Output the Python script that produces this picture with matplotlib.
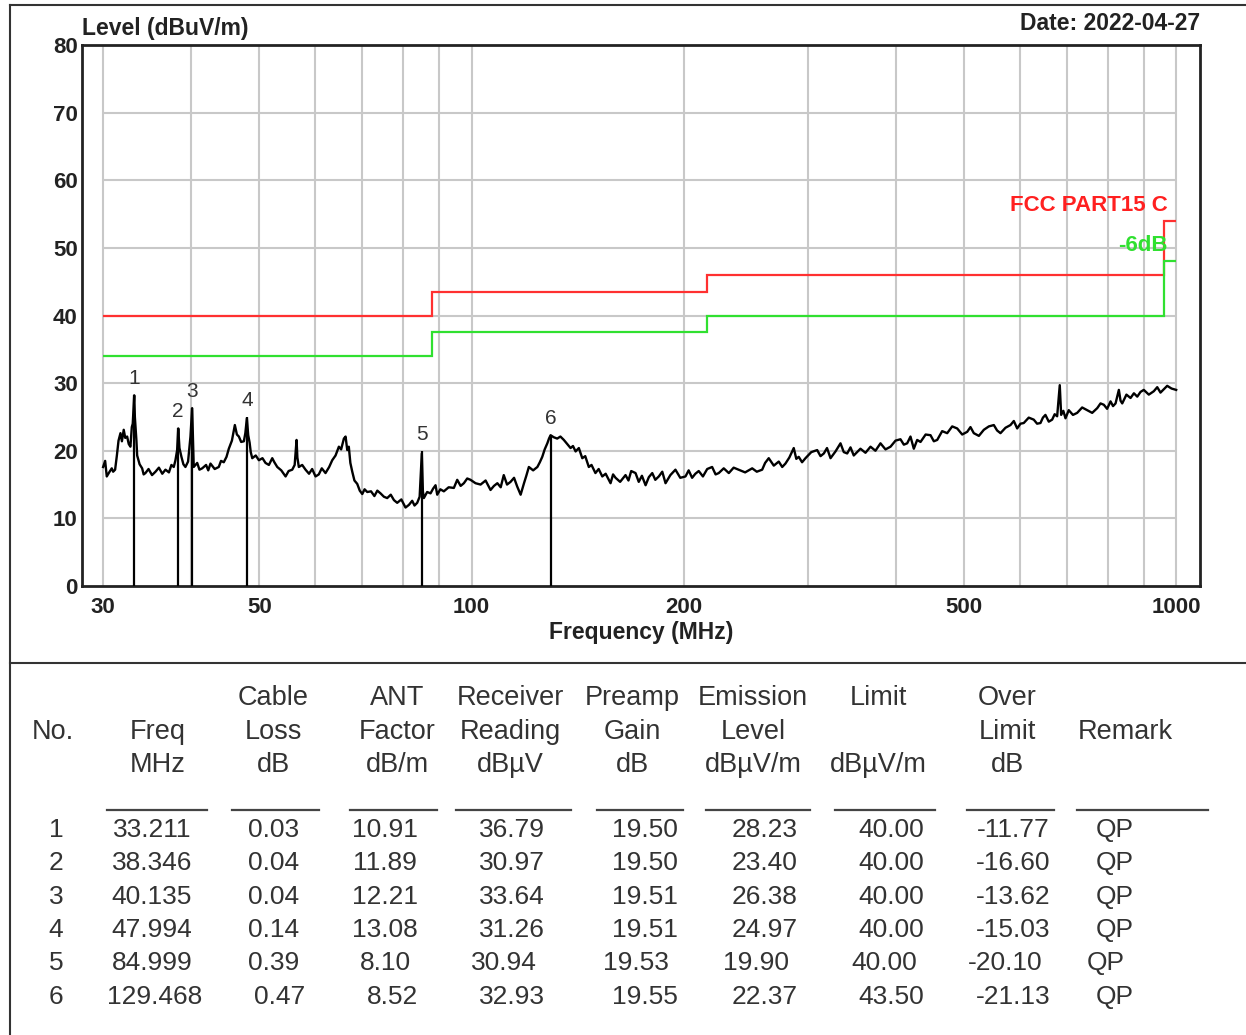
import matplotlib.pyplot as plt
from matplotlib.lines import Line2D

plt.rcParams['font.family'] = ['Liberation Sans', 'DejaVu Sans']

W, H = 1246, 1035

trace_freq = [
    30.0, 30.2, 30.36, 30.6, 30.86, 31.0, 31.2, 31.38, 31.55, 31.75,
    31.9, 32.09, 32.25, 32.45, 32.62, 32.8, 32.95, 33.05, 33.15, 33.21,
    33.28, 33.34, 33.45, 33.53, 33.8, 34.08, 34.25, 34.45, 34.8, 35.2,
    35.6, 36.0, 36.4, 36.78, 37.2, 37.5, 37.79, 38.0, 38.21, 38.35,
    38.5, 38.75, 39.0, 39.26, 39.6, 39.91, 40.13, 40.34, 40.8, 41.1,
    41.47, 42.0, 42.3, 42.61, 43.2, 43.78, 44.1, 44.5, 44.9, 45.24,
    45.7, 46.14, 46.45, 46.75, 47.1, 47.52, 47.75, 47.99, 48.2, 48.42,
    48.6, 48.84, 49.4, 49.91, 50.5, 51.0, 51.57, 52.14, 52.5, 53.0,
    53.7, 54.46, 55.0, 55.66, 56.1, 56.45, 56.6, 56.87, 57.5, 58.13,
    58.8, 59.4, 60.06, 60.7, 61.3, 62.05, 62.8, 63.43, 64.12, 64.82,
    65.3, 65.89, 66.26, 66.62, 66.96, 67.3, 67.72, 68.2, 68.83, 69.4,
    69.97, 70.5, 71.12, 72.0, 72.8, 73.5, 74.27, 75.1, 75.91, 76.8,
    77.6, 78.43, 79.5, 80.59, 81.5, 82.37, 83.0, 83.73, 84.4, 85.0,
    85.3, 85.57, 86.5, 87.46, 88.2, 88.9, 89.39, 90.3, 91.35, 92.8,
    94.38, 95.43, 96.5, 97.52, 98.6, 99.67, 101.3, 103.0, 104.7, 106.4,
    107.6, 108.8, 110.0, 111.1, 112.3, 113.6, 114.9, 116.1, 117.4, 118.7,
    119.6, 120.6, 122.3, 124.0, 125.0, 126.0, 127.0, 128.1, 128.8, 129.47,
    130.8, 132.3, 133.7, 135.2, 136.7, 138.2, 139.3, 140.5, 142.0, 143.6,
    145.0, 146.7, 148.0, 149.9, 151.5, 153.3, 155.0, 157.5, 158.8, 160.1,
    162.5, 165.4, 167.0, 168.5, 170.9, 172.7, 174.5, 176.6, 178.5, 180.5,
    182.3, 184.4, 186.5, 188.5, 191.5, 194.7, 197.8, 201.2, 203.3, 205.6,
    207.8, 210.1, 213.0, 216.0, 219.5, 222.0, 224.3, 228.0, 231.8, 235.5,
    239.4, 244.5, 250.2, 254.0, 258.5, 261.0, 264.1, 268.5, 272.9, 276.0,
    278.9, 282.5, 286.6, 289.0, 291.3, 294.5, 297.8, 303.5, 309.4, 312.8,
    316.2, 319.5, 323.2, 328.5, 333.9, 337.5, 341.3, 345.0, 348.7, 352.5,
    356.4, 362.3, 368.3, 374.3, 380.5, 386.8, 393.2, 399.7, 406.2, 410.7,
    415.2, 419.7, 424.3, 429.0, 433.7, 441.0, 448.1, 453.0, 458.0, 465.5,
    473.2, 481.0, 488.9, 497.0, 505.2, 510.6, 516.2, 524.8, 533.4, 542.2,
    551.1, 557.0, 563.2, 572.5, 581.9, 588.3, 594.8, 601.2, 607.7, 617.7,
    627.9, 634.8, 641.8, 647.0, 652.3, 659.5, 666.8, 672.3, 677.8, 683.6,
    686.7, 691.6, 696.5, 704.0, 713.7, 723.6, 735.5, 747.7, 760.0, 772.6,
    781.0, 789.5, 798.0, 807.0, 813.6, 820.3, 829.2, 833.8, 838.4, 850.0,
    861.5, 871.0, 880.6, 890.0, 899.6, 914.5, 929.5, 940.0, 950.1, 960.5,
    971.1, 985.0, 1000.0,
]
trace_level = [
    17.6, 18.5, 16.2, 16.8, 17.4, 16.9, 17.2, 19.3, 21.5, 22.6,
    21.4, 23.1, 21.9, 22.1, 21.0, 20.6, 23.5, 24.0, 26.5, 28.2,
    25.0, 23.8, 21.5, 19.3, 18.0, 17.4, 16.5, 16.7, 17.3, 16.4,
    16.9, 17.5, 16.6, 17.2, 16.8, 17.9, 17.6, 18.6, 20.1, 23.3,
    20.4, 19.1, 18.0, 17.6, 18.4, 22.1, 26.3, 17.6, 18.2, 17.2,
    17.4, 17.9, 17.1, 18.1, 17.3, 17.6, 18.5, 18.3, 19.1, 20.3,
    21.5, 23.8, 22.4, 22.1, 21.3, 21.4, 22.6, 24.8, 22.3, 21.2,
    19.8, 18.9, 19.3, 18.6, 18.9, 18.2, 17.9, 18.9, 18.3, 17.6,
    17.1, 16.2, 17.0, 17.2, 17.9, 21.6, 19.0, 17.6, 17.9, 17.2,
    16.6, 17.3, 16.2, 16.5, 17.4, 16.7, 17.6, 18.6, 19.3, 20.6,
    20.2, 21.8, 22.1, 20.1, 20.6, 18.2, 16.9, 15.6, 15.1, 14.1,
    13.6, 14.3, 13.9, 14.0, 13.3, 14.1, 13.7, 13.2, 13.0, 13.5,
    12.7, 12.3, 12.8, 11.6, 12.0, 12.6, 11.9, 12.3, 13.2, 19.6,
    14.0, 13.0, 13.9, 13.7, 14.4, 14.9, 13.5, 14.3, 14.0, 14.6,
    14.5, 15.7, 14.8, 15.2, 15.9, 15.7, 15.2, 15.0, 15.6, 14.2,
    14.8, 15.2, 14.6, 16.4, 15.0, 15.4, 16.0, 14.7, 13.5, 15.2,
    16.3, 17.6, 17.1, 17.6, 18.3, 19.1, 20.2, 21.1, 21.8, 22.3,
    22.0, 21.8, 22.1, 21.6, 21.0, 20.4, 20.7, 19.9, 20.4, 18.9,
    19.2, 17.6, 17.9, 16.7, 17.3, 16.2, 16.6, 15.2, 16.5, 16.0,
    15.4, 16.4, 15.6, 17.0, 16.7, 15.4, 16.3, 14.9, 16.1, 16.7,
    15.7, 16.2, 16.9, 15.2, 16.4, 17.2, 16.0, 16.2, 17.1, 16.0,
    16.6, 17.0, 16.2, 17.3, 17.6, 16.5, 16.7, 17.4, 16.7, 17.5,
    17.2, 16.8, 17.4, 16.9, 17.2, 18.2, 18.9, 17.8, 18.4, 17.6,
    18.1, 19.0, 20.4, 18.8, 19.1, 18.3, 18.9, 19.8, 20.1, 19.2,
    19.6, 20.4, 18.9, 19.9, 21.1, 19.8, 19.6, 20.5, 19.3, 19.8,
    20.3, 19.7, 20.6, 20.0, 21.1, 20.2, 20.6, 21.5, 21.7, 20.9,
    21.1, 22.1, 20.3, 21.6, 21.3, 22.4, 22.3, 21.4, 21.6, 22.9,
    22.6, 23.6, 23.3, 22.4, 22.8, 23.5, 22.6, 22.2, 23.1, 23.6,
    23.8, 23.0, 22.6, 23.4, 23.8, 24.4, 23.3, 24.0, 24.1, 24.9,
    24.6, 24.0, 24.1, 24.9, 25.3, 24.3, 24.6, 25.4, 25.1, 29.7,
    25.3, 25.9, 24.8, 26.0, 25.3, 25.6, 26.4, 26.0, 25.6, 26.3,
    27.0, 26.8, 26.2, 27.3, 26.6, 27.0, 29.0, 27.4, 27.0, 28.3,
    27.8, 28.5, 28.0, 28.7, 29.0, 28.3, 28.8, 29.4, 28.6, 29.1,
    29.6, 29.2, 29.0,
]

# FCC Part 15 C limit and the -6 dB margin line
limit_edges = [30, 88, 216, 960, 1000]
limit_values = [40, 43.5, 46, 54]
margin_db = 6

# Final measurement points
marker_no = [1, 2, 3, 4, 5, 6]
marker_freq = [33.211, 38.346, 40.135, 47.994, 84.999, 129.468]
cable_loss = [0.03, 0.04, 0.04, 0.14, 0.39, 0.47]
ant_factor = [10.91, 11.89, 12.21, 13.08, 8.10, 8.52]
receiver_reading = [36.79, 30.97, 33.64, 31.26, 30.94, 32.93]
preamp_gain = [19.50, 19.50, 19.51, 19.51, 19.53, 19.55]
emission_level = [28.23, 23.40, 26.38, 24.97, 19.90, 22.37]
limit_at_point = [40.00, 40.00, 40.00, 40.00, 40.00, 43.50]
over_limit = [-11.77, -16.60, -13.62, -15.03, -20.10, -21.13]
remark = ['QP'] * 6

xticks = [30, 50, 100, 200, 500, 1000]
xgrid = [30, 40, 50, 60, 70, 80, 90, 100, 200, 300, 400, 500, 600, 700, 800, 900, 1000]


def fx(px):
    return px / W


def fy(py):
    return 1 - py / H


fig = plt.figure(figsize=(W / 100, H / 100), dpi=100)
ax = fig.add_axes([fx(82), fy(586), (1200 - 82) / W, (586 - 45) / H])
ax.set_xscale('log')
ax.set_xlim(28.0, 1081)
ax.set_ylim(0, 80)

# grid
grid_c = '#c8c8c8'
ax.vlines(xgrid, 0, 80, color=grid_c, lw=1.5, zorder=0)
ax.hlines(range(10, 80, 10), 30, 1000, color=grid_c, lw=1.5, zorder=0)

# limit lines
ax.stairs(limit_values, limit_edges, baseline=None, color='#ff3030', lw=1.6, zorder=2)
ax.stairs([v - margin_db for v in limit_values], limit_edges, baseline=None,
          color='#30e030', lw=1.6, zorder=2)
ax.text(973, 56.3, 'FCC PART15 C', color='#ff2020', fontsize=16, fontweight='bold',
        ha='right', va='center')
ax.text(973, 50.4, '-6dB', color='#30e030', fontsize=16, fontweight='bold',
        ha='right', va='center')

# trace and markers
ax.plot(trace_freq, trace_level, color='black', lw=1.7, zorder=3)
ax.vlines(marker_freq, 0, emission_level, color='black', lw=1.6, zorder=3)
for n, f, lv in zip(marker_no, marker_freq, emission_level):
    ax.annotate(str(n), (f, lv), xytext=(0, 5), textcoords='offset points',
                ha='center', va='bottom', fontsize=15, color='#333333')

ax.set_xticks(xticks)
ax.set_xticklabels([str(t) for t in xticks])
ax.minorticks_off()
ax.set_yticks(range(0, 90, 10))
ax.tick_params(length=0, labelsize=16, colors='#222222')
ax.tick_params(axis='x', pad=8)
ax.tick_params(axis='y', pad=3)
for lab in ax.get_xticklabels() + ax.get_yticklabels():
    lab.set_fontweight('bold')
for sp in ax.spines.values():
    sp.set_linewidth(2)
    sp.set_color('#222222')

fig.text(fx(641), fy(633), 'Frequency (MHz)', ha='center', va='center',
         fontsize=16.5, fontweight='bold', color='#222222')
fig.text(fx(82), fy(28), 'Level (dBuV/m)', ha='left', va='center',
         fontsize=16.5, fontweight='bold', color='#222222')
fig.text(fx(1200), fy(23), 'Date: 2022-04-27', ha='right', va='center',
         fontsize=16.5, fontweight='bold', color='#222222')

# page frame and separator
frame_c = '#333333'
fig.add_artist(Line2D([fx(10), fx(10)], [0, fy(5)], transform=fig.transFigure, color=frame_c, lw=1.5))
fig.add_artist(Line2D([fx(10), 1], [fy(5), fy(5)], transform=fig.transFigure, color=frame_c, lw=1.5))
fig.add_artist(Line2D([fx(10), 1], [fy(663), fy(663)], transform=fig.transFigure, color=frame_c, lw=1.5))

# table header
headers = [
    ['', 'No.', ''],
    ['', 'Freq', 'MHz'],
    ['Cable', 'Loss', 'dB'],
    ['ANT', 'Factor', 'dB/m'],
    ['Receiver', 'Reading', 'dB\u00b5V'],
    ['Preamp', 'Gain', 'dB'],
    ['Emission', 'Level', 'dB\u00b5V/m'],
    ['Limit', '', 'dB\u00b5V/m'],
    ['Over', 'Limit', 'dB'],
    ['', 'Remark', ''],
]
head_x = [53, 158, 273, 397, 510, 632, 753, 878, 1007, 1125]
head_y = [698, 732, 765]
txt_c = '#333333'
for cx, lines in zip(head_x, headers):
    for ty, s in zip(head_y, lines):
        if s:
            fig.text(fx(cx), fy(ty), s, ha='center', va='center', fontsize=19.5, color=txt_c)

underlines = [(107, 207), (232, 319), (350, 437), (456, 571), (597, 683),
              (706, 810), (835, 935), (967, 1054), (1077, 1208)]
for x0, x1 in underlines:
    fig.add_artist(Line2D([fx(x0), fx(x1)], [fy(810), fy(810)], transform=fig.transFigure,
                          color='#444444', lw=1.6))

# table rows
col_x = [56, 152, 274, 385, 512, 645, 765, 891, 1013, 1115]
row_y = [830, 863, 897, 930, 963, 997]
nudge = {4: [0, 0, 0, 0, -8, -9, -9, -7, -8, -9],
         5: [0, 3, 6, 7, 0, 0, 0, 0, 0, 0]}
for i in range(6):
    cells = [str(marker_no[i]), f'{marker_freq[i]:.3f}', f'{cable_loss[i]:.2f}',
             f'{ant_factor[i]:.2f}', f'{receiver_reading[i]:.2f}', f'{preamp_gain[i]:.2f}',
             f'{emission_level[i]:.2f}', f'{limit_at_point[i]:.2f}', f'{over_limit[i]:.2f}',
             remark[i]]
    shifts = nudge.get(i, [0] * 10)
    for j, s in enumerate(cells):
        fig.text(fx(col_x[j] + shifts[j]), fy(row_y[i]), s, ha='center', va='center',
                 fontsize=19, color=txt_c)

fig.savefig('out.png', dpi=100)
